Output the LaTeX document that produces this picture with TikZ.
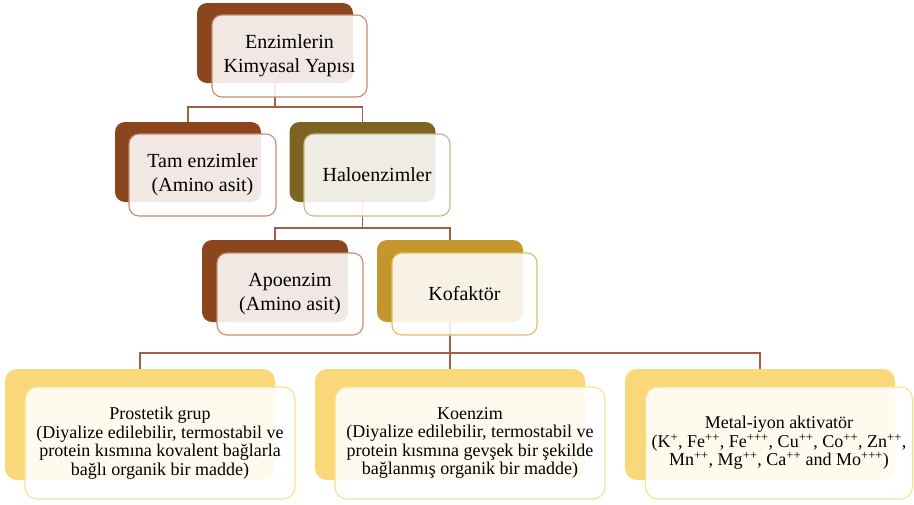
\documentclass[tikz,border=0pt]{standalone}
\usepackage{fontspec}
\setmainfont{Liberation Serif}
\definecolor{brownbk}{RGB}{140,70,30}
\definecolor{olivebk}{RGB}{125,100,35}
\definecolor{goldbk}{RGB}{196,150,45}
\definecolor{yellowbk}{RGB}{250,215,120}
\definecolor{brownln}{RGB}{195,140,110}
\definecolor{oliveln}{RGB}{200,185,130}
\definecolor{goldln}{RGB}{222,190,100}
\definecolor{yellowln}{RGB}{252,222,140}
\definecolor{connc}{RGB}{160,95,70}
\begin{document}
\begin{tikzpicture}[x=1pt, y=-1pt,
    backbox/.style={rounded corners=10pt, minimum width=146pt, minimum height=80pt, inner sep=0pt},
    frontbox/.style={draw, line width=1.1pt, fill=white, fill opacity=0.88, text opacity=1,
      rounded corners=10pt, minimum width=147pt, minimum height=82pt, inner sep=0pt,
      align=center, text=black, font=\fontsize{20}{24}\selectfont},
    wide/.style={minimum width=270pt, minimum height=112pt, rounded corners=12pt},
    small/.style={font=\fontsize{18}{18.5}\selectfont},
    conn/.style={draw=connc, line width=1.3pt}]
  \useasboundingbox (0,0) rectangle (914,504);

  % back boxes
  \node[backbox, fill=brownbk, minimum width=156pt] (topbk) at (275,43) {};
  \node[backbox, fill=brownbk] (tambk) at (188,162) {};
  \node[backbox, fill=olivebk] (halobk) at (362.5,162) {};
  \node[backbox, fill=brownbk, minimum height=82pt] (apobk) at (275,281) {};
  \node[backbox, fill=goldbk, minimum height=82pt] (kofbk) at (450,281) {};
  \node[backbox, wide, fill=yellowbk, minimum height=111pt] (prosbk) at (140,424.5) {};
  \node[backbox, wide, fill=yellowbk, minimum height=111pt] (koenbk) at (450,424.5) {};
  \node[backbox, wide, fill=yellowbk, minimum height=111pt] (metalbk) at (760,424.5) {};

  % connectors
  \coordinate (bus1) at (275,107);
  \coordinate (bus2) at (362.5,228);
  \coordinate (bus3) at (450,353);
  \draw[conn] (topbk.south) -- (bus1) -| (tambk.north);
  \draw[conn] (bus1) -| (halobk.north);
  \draw[conn] (halobk.south) -- (bus2) -| (apobk.north);
  \draw[conn] (bus2) -| (kofbk.north);
  \draw[conn] (kofbk.south) -- (bus3) -| (prosbk.north);
  \draw[conn] (bus3) -- (koenbk.north);
  \draw[conn] (bus3) -| (metalbk.north);

  % front boxes
  \node[frontbox, draw=brownln, minimum width=155pt] (top) at (289.5,56) {Enzimlerin\\Kimyasal Yapısı};
  \node[frontbox, draw=brownln] (tam) at (202.5,175) {Tam enzimler\\(Amino asit)};
  \node[frontbox, draw=oliveln, minimum width=146pt] (halo) at (377,175) {Haloenzimler};
  \node[frontbox, draw=brownln, minimum width=146pt] (apo) at (290,294) {Apoenzim\\(Amino asit)};
  \node[frontbox, draw=goldln, minimum width=145pt] (kof) at (464.5,294) {Kofaktör};
  \node[frontbox, wide, small, draw=yellowln] (pros) at (160,443)
    {Prostetik grup\\(Diyalize edilebilir, termostabil ve\\protein kısmına kovalent bağlarla\\bağlı organik bir madde)};
  \node[frontbox, wide, small, draw=yellowln] (koen) at (470,443)
    {Koenzim\\(Diyalize edilebilir, termostabil ve\\protein kısmına gevşek bir şekilde\\bağlanmış organik bir madde)};
  \node[frontbox, wide, small, draw=yellowln, minimum width=267pt] (metal) at (779,443)
    {Metal-iyon aktivatör\\(K\textsuperscript{+}, Fe\textsuperscript{++}, Fe\textsuperscript{+++}, Cu\textsuperscript{++}, Co\textsuperscript{++}, Zn\textsuperscript{++},\\Mn\textsuperscript{++}, Mg\textsuperscript{++}, Ca\textsuperscript{++} and Mo\textsuperscript{+++})};
\end{tikzpicture}
\end{document}
